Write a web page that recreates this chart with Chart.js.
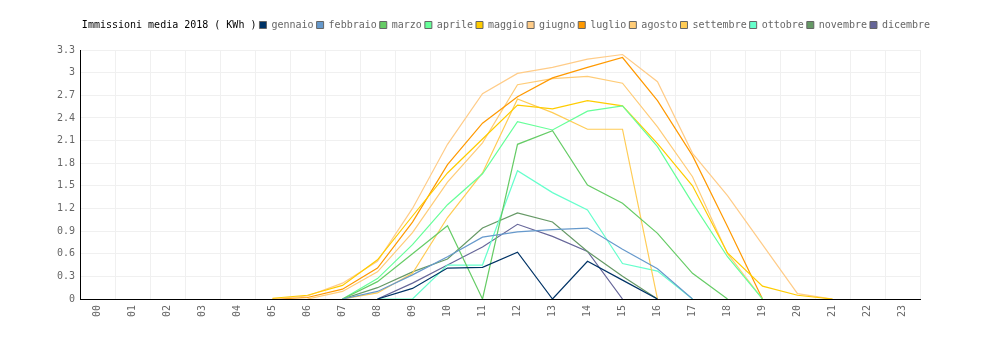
<!DOCTYPE html>
<html lang="it">
<head>
<meta charset="utf-8">
<title>Immissioni media 2018</title>
<script src="https://cdn.jsdelivr.net/npm/chart.js@4/dist/chart.umd.min.js"></script>
<style>
  html, body { margin: 0; padding: 0; background: #fff; }
  #wrap { width: 1000px; height: 340px; }
</style>
</head>
<body>
<div id="wrap"><canvas id="chart" width="1000" height="340"></canvas></div>
<script>
// Hours of the day (category axis)
const hours = ['00','01','02','03','04','05','06','07','08','09','10','11',
               '12','13','14','15','16','17','18','19','20','21','22','23'];

// Value axis tick labels (kWh)
const yTickLabels = ['0','0.3','0.6','0.9','1.2','1.5','1.8','2.1','2.4','2.7','3','3.3'];

const chartTitle = 'Immissioni media 2018 ( KWh )';

// Average hourly feed-in per month, kWh (null = no production recorded)
const gennaio   = [null,null,null,null,null,null,null,null,0,0.14,0.41,0.42,0.62,0,0.5,0.25,0,null,null,null,null,null,null,null];
const febbraio  = [null,null,null,null,null,null,null,0,0.1,0.32,0.56,0.82,0.89,0.92,0.94,0.66,0.4,0,null,null,null,null,null,null];
const marzo     = [null,null,null,null,null,null,null,0,0.23,0.6,0.97,0,2.05,2.23,1.51,1.27,0.87,0.34,0,null,null,null,null,null];
const aprile    = [null,null,null,null,null,null,null,0,0.27,0.72,1.25,1.66,2.35,2.24,2.49,2.56,2.02,1.27,0.56,0,null,null,null,null];
const maggio    = [null,null,null,null,null,0.01,0.05,0.18,0.52,1.1,1.67,2.12,2.57,2.52,2.63,2.56,2.06,1.5,0.61,0.17,0.05,0,null,null];
const giugno    = [null,null,null,null,null,0,0.04,0.21,0.5,1.2,2.05,2.72,2.99,3.07,3.18,3.24,2.88,1.93,1.37,0.72,0.07,0,null,null];
const luglio    = [null,null,null,null,null,0,0.02,0.13,0.41,1.02,1.78,2.33,2.68,2.93,3.07,3.2,2.63,1.9,0.96,0,null,null,null,null];
const agosto    = [null,null,null,null,null,null,0,0.1,0.36,0.88,1.55,2.07,2.84,2.92,2.95,2.86,2.28,1.62,0.6,0,null,null,null,null];
const settembre = [null,null,null,null,null,null,null,0,0.08,0.34,1.08,1.67,2.65,2.47,2.25,2.25,0,null,null,null,null,null,null,null];
const ottobre   = [null,null,null,null,null,null,null,null,0,0,0.45,0.45,1.7,1.41,1.18,0.47,0.37,0,null,null,null,null,null,null];
const novembre  = [null,null,null,null,null,null,null,0,0.15,0.36,0.53,0.94,1.14,1.02,0.63,0.3,0,null,null,null,null,null,null,null];
const dicembre  = [null,null,null,null,null,null,null,null,0,0.21,0.45,0.69,0.99,0.83,0.63,0,null,null,null,null,null,null,null,null];

const monthNames  = ['gennaio','febbraio','marzo','aprile','maggio','giugno','luglio','agosto','settembre','ottobre','novembre','dicembre'];
const monthSeries = [gennaio, febbraio, marzo, aprile, maggio, giugno, luglio, agosto, settembre, ottobre, novembre, dicembre];
const monthColors = ['#003366','#6699cc','#66cc66','#66ff99','#ffcc00','#ffcc88','#ff9900','#ffcc77','#ffcc55','#66ffcc','#669966','#666699'];

Chart.defaults.font.family = "'DejaVu Sans Mono', monospace";
Chart.defaults.font.size = 10;
Chart.defaults.color = '#666';

// Extra room between the legend row and the plot area
const legendSpacing = {
  id: 'legendSpacing',
  beforeLayout(chart) {
    const lg = chart.legend;
    if (lg && !lg._spaced) {
      const fit = lg.fit;
      lg.fit = function () { fit.call(this); this.height += 10; };
      lg._spaced = true;
    }
  }
};

const datasets = monthNames.map((name, i) => ({
  label: name,
  data: monthSeries[i],
  borderColor: monthColors[i],
  backgroundColor: monthColors[i],
  borderWidth: 1.2,
  pointRadius: 0,
  pointHoverRadius: 0,
  tension: 0,
  fill: false
}));

new Chart(document.getElementById('chart'), {
  type: 'line',
  data: { labels: hours, datasets },
  plugins: [legendSpacing],
  options: {
    responsive: false,
    animation: false,
    layout: { padding: { top: 17, left: 0, right: 0, bottom: 0 } },
    plugins: {
      tooltip: { enabled: false },
      legend: {
        position: 'top',
        align: 'center',
        labels: {
          boxWidth: 7,
          boxHeight: 7,
          padding: 3,
          color: '#666',
          font: { size: 10 },
          generateLabels(chart) {
            const items = chart.data.datasets.map((ds, i) => ({
              text: ds.label,
              fillStyle: ds.backgroundColor,
              strokeStyle: '#666',
              lineWidth: 1,
              fontColor: '#666',
              hidden: false,
              datasetIndex: i
            }));
            items.unshift({
              text: chartTitle,
              fillStyle: 'rgba(0,0,0,0)',
              strokeStyle: 'rgba(0,0,0,0)',
              lineWidth: 0,
              fontColor: '#000',
              hidden: false,
              datasetIndex: -1
            });
            return items;
          }
        },
        onClick: () => {}
      }
    },
    scales: {
      x: {
        type: 'category',
        offset: true,
        grid: { display: true, offset: true, color: '#f0f0f0', lineWidth: 1, drawTicks: false },
        border: { display: true, color: '#000', width: 1 },
        ticks: { minRotation: 90, maxRotation: 90, autoSkip: false, padding: 6, color: '#666' },
        afterFit(scale) { scale.height = 41; }
      },
      y: {
        type: 'linear',
        position: 'left',
        min: 0,
        max: 3.3,
        grid: { color: '#f0f0f0', lineWidth: 1, drawTicks: false },
        border: { display: true, color: '#000', width: 1 },
        ticks: {
          padding: 5,
          color: '#666',
          callback: (v) => {
            const idx = yTickLabels.findIndex(t => Math.abs(parseFloat(t) - v) < 1e-6);
            return idx >= 0 ? yTickLabels[idx] : '';
          }
        },
        afterBuildTicks(scale) {
          scale.ticks = yTickLabels.map(t => ({ value: parseFloat(t) }));
        },
        afterFit(scale) { scale.width = 80; }
      },
      yRight: {
        type: 'linear',
        position: 'right',
        display: true,
        grid: { display: false, drawTicks: false },
        border: { display: false },
        ticks: { display: false },
        afterFit(scale) { scale.width = 80; }
      }
    }
  }
});
</script>
</body>
</html>
